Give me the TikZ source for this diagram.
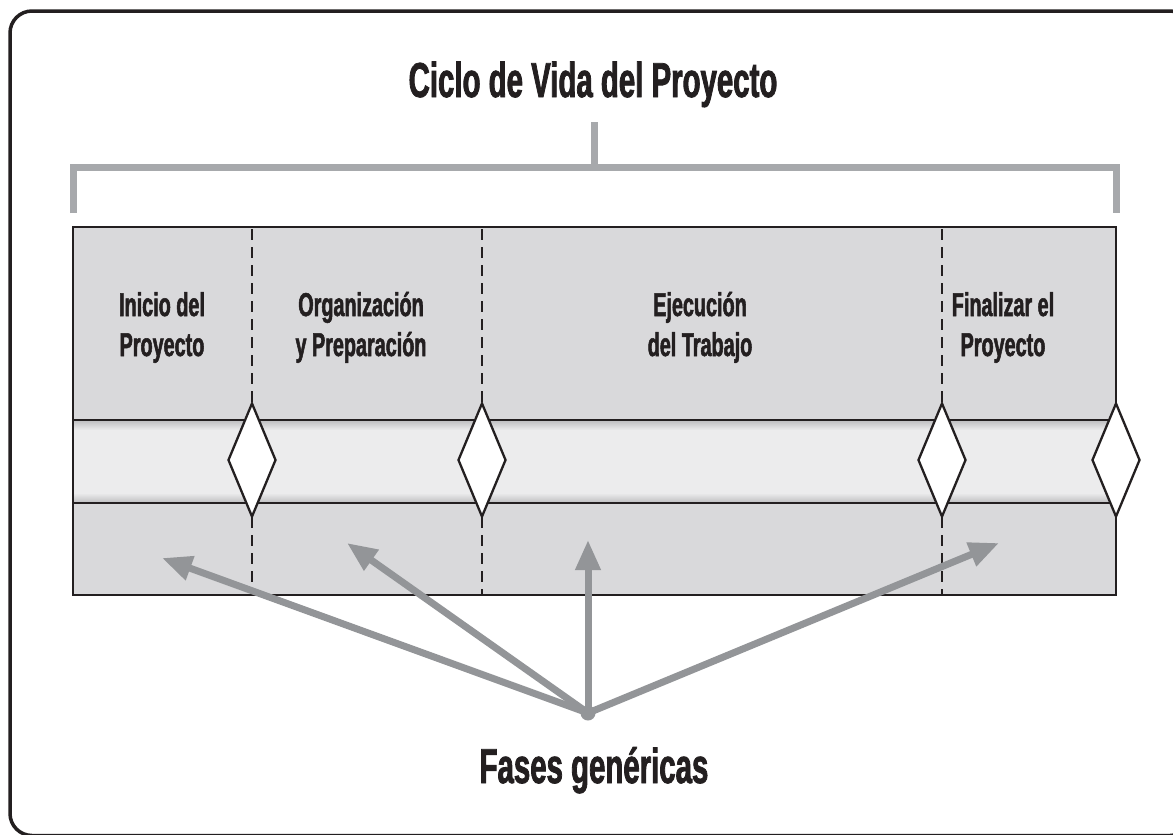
\documentclass[tikz,border=0pt]{standalone}
\usepackage{fontspec}
\setmainfont{Liberation Sans}[FakeStretch=0.6, BoldFeatures={FakeBold=1.6}]
\usetikzlibrary{arrows.meta,shapes.geometric}
\definecolor{ink}{HTML}{231F20}
\definecolor{band}{HTML}{D9D9DB}
\definecolor{lite}{HTML}{ECECED}
\definecolor{edge}{HTML}{BDBDBF}
\definecolor{brk}{HTML}{A7A9AC}
\definecolor{arrc}{HTML}{939598}
\tikzset{
  lab/.style={text=ink, font=\fontsize{33}{40}\selectfont\bfseries, align=center, inner sep=0pt},
  ttl/.style={text=ink, font=\fontsize{49}{58}\selectfont\bfseries, inner sep=0pt},
  pointer/.style={draw=arrc, line width=7pt, -{Triangle[length=30pt,width=24pt]}},
  milestone/.style={diamond, draw=ink, fill=white, line width=2.3pt, minimum width=48pt, minimum height=114pt, inner sep=0pt},
  phaseline/.style={draw=ink, line width=2.6pt, dash pattern=on 11pt off 7pt},
}
\begin{document}
\begin{tikzpicture}[x=1pt,y=-1pt]
\useasboundingbox (0,0) rectangle (1173,835);
\fill[white] (0,0) rectangle (1173,835);
\clip (0,0) rectangle (1173,835);
% outer frame
\draw[ink, line width=3.5pt, rounded corners=22pt] (10,11) rectangle (1192,835.5);
% title and bracket
\node[ttl, anchor=base] (title) at (593,97) {Ciclo de Vida del Proyecto};
\draw[brk, line width=7pt] (73,213) -- (73,167) -- (1116,167) -- (1116,213);
\draw[brk, line width=7pt] (594,167) -- (594,122);
% main bar
\fill[band] (73,227) rectangle (1116,595);
\fill[lite] (73,420) rectangle (1116,503);
\shade[top color=edge, bottom color=lite] (73,420) rectangle (1116,430);
\shade[top color=lite, bottom color=edge] (73,493) rectangle (1116,503);
\draw[phaseline] (252,229) -- (252,595);
\draw[phaseline] (482,229) -- (482,595);
\draw[phaseline] (942,229) -- (942,595);
\draw[ink, line width=2.8pt] (73,420) -- (1116,420);
\draw[ink, line width=2.8pt] (73,503) -- (1116,503);
\draw[ink, line width=2.8pt] (73,227) rectangle (1116,595);
% milestones
\node[milestone] (m1) at (252,460) {};
\node[milestone] (m2) at (482,460) {};
\node[milestone] (m3) at (942,460) {};
\node[milestone] (m4) at (1116,460) {};
% phase labels
\node[lab, anchor=base] (p1) at (162,356) {Inicio del\\Proyecto};
\node[lab, anchor=base] (p2) at (361,356) {Organización\\y Preparación};
\node[lab, anchor=base] (p3) at (700,356) {Ejecución\\del Trabajo};
\node[lab, anchor=base] (p4) at (1003,356) {Finalizar el\\Proyecto};
% pointers
\coordinate (o) at (588,713);
\coordinate (t1) at (162,558);
\coordinate (t2) at (347,543);
\coordinate (t3) at (588,540);
\coordinate (t4) at (999,543);
\draw[pointer] (o) -- (t1);
\draw[pointer] (o) -- (t2);
\draw[pointer] (o) -- (t3);
\draw[pointer] (o) -- (t4);
\fill[arrc] (o) circle (7.5pt);
\node[ttl, anchor=base] (fases) at (594,783) {Fases genéricas};
\end{tikzpicture}
\end{document}
